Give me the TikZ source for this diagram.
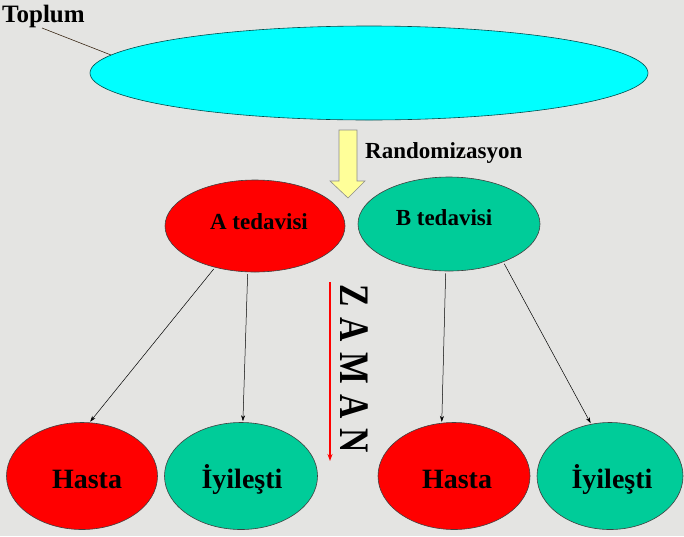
\documentclass[tikz,border=0pt]{standalone}
\usepackage{fontspec}
\usepackage{graphicx}
\setmainfont{Liberation Serif}
\usetikzlibrary{arrows.meta,shapes.geometric}
\definecolor{bg}{RGB}{228,228,226}
\definecolor{popcyan}{RGB}{0,255,255}
\definecolor{tred}{RGB}{255,0,0}
\definecolor{tteal}{RGB}{0,204,153}
\definecolor{arrowyellow}{RGB}{255,255,153}
\tikzset{
  oval/.style={ellipse, draw=black!75, line width=0.6pt, inner sep=0pt},
  lbl/.style={font=\bfseries\fontsize{23}{23}\selectfont, inner sep=0pt},
  biglbl/.style={font=\bfseries\fontsize{28}{28}\selectfont, inner sep=0pt},
  conn/.style={draw=black, line width=0.5pt, -{Stealth[length=6pt,width=4pt]}, shorten <=2pt, shorten >=1pt},
}
\begin{document}
\begin{tikzpicture}[x=1pt,y=-1pt]
\fill[bg] (0,0) rectangle (684,536);
\useasboundingbox (0,0) rectangle (684,536);

% population
\node[oval, fill=popcyan, draw=teal!60!black, minimum width=558pt, minimum height=94pt] (pop) at (369,73) {};
\node[lbl, font=\bfseries\fontsize{25}{25}\selectfont, anchor=base west] (toplum) at (2,22) {Toplum};
\coordinate (tl) at (42,28);
\draw[draw=black!70!brown, line width=0.6pt] (tl) -- (pop.176);

% randomization arrow
\draw[fill=arrowyellow, draw=black!45, line width=0.6pt]
  (339,130) -- (357,130) -- (357,181) -- (365,181) -- (348,198) -- (330,181) -- (339,181) -- cycle;
\node[lbl, anchor=base west] (rand) at (365,158) {Randomizasyon};

% treatments
\node[oval, fill=tred, minimum width=180pt, minimum height=92pt] (A) at (255,226) {};
\node[lbl, anchor=base] at (259,229) {A tedavisi};
\node[oval, fill=tteal, minimum width=182pt, minimum height=94pt] (B) at (449,224) {};
\node[lbl, anchor=base] at (444,225) {B tedavisi};

% outcomes
\node[oval, fill=tred, minimum width=151pt, minimum height=107pt] (H1) at (82,476) {};
\node[biglbl, anchor=base] at (87,488) {Hasta};
\node[oval, fill=tteal, minimum width=153pt, minimum height=107pt] (I1) at (241,476) {};
\node[biglbl, anchor=base] at (242,488) {İyileşti};
\node[oval, fill=tred, minimum width=152pt, minimum height=107pt] (H2) at (454,476) {};
\node[biglbl, anchor=base] at (457,488) {Hasta};
\node[oval, fill=tteal, minimum width=146pt, minimum height=107pt] (I2) at (610,476) {};
\node[biglbl, anchor=base] at (612,488) {İyileşti};

% connectors
\draw[conn] (A.226) -- (H1.82);
\draw[conn] (A.261) -- (I1.88);
\draw[conn] (B.266) -- (H2.103);
\draw[conn] (B.325) -- (I2.110);

% time arrow
\coordinate (t0) at (330,282);
\coordinate (t1) at (330,461);
\draw[draw=tred, line width=1.2pt, -{Stealth[length=7pt,width=5pt]}] (t0) -- (t1);
\node[font=\bfseries\fontsize{42}{42}\selectfont, rotate=-90, inner sep=0pt] (zaman) at (354,369)
  {\scalebox{0.8}[1]{Z\hspace{13pt}A\hspace{13pt}M\hspace{13pt}A\hspace{13pt}N}};
\end{tikzpicture}
\end{document}
